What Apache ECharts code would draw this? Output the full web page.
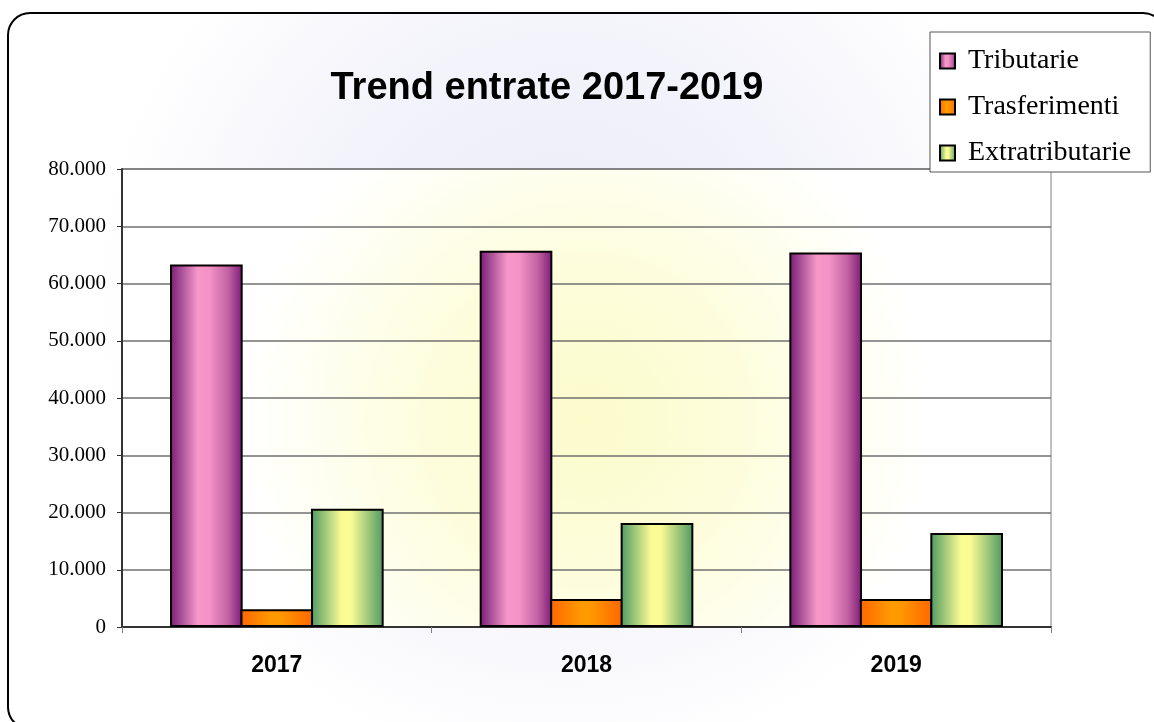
<!DOCTYPE html>
<html>
<head>
<meta charset="utf-8">
<title>Trend entrate 2017-2019</title>
<script src="https://cdn.jsdelivr.net/npm/echarts@6/dist/echarts.min.js"></script>
<style>
  html, body { margin: 0; padding: 0; background: #fff; }
  #main { width: 1154px; height: 722px; }
</style>
</head>
<body>
<div id="main"></div>
<script>
var categories = ['2017', '2018', '2019'];
var tributarie = [63300, 65700, 65400];
var trasferimenti = [3100, 4900, 4900];
var extratributarie = [20650, 18150, 16400];

function hGrad(edge, mid) {
  return new echarts.graphic.LinearGradient(0, 0, 1, 0, [
    { offset: 0, color: edge },
    { offset: 0.42, color: mid },
    { offset: 0.55, color: mid },
    { offset: 1, color: edge }
  ]);
}

window.onload = function () {
  var myChart = echarts.init(document.getElementById('main'));

  var option = {
    animation: false,
    graphic: [{
      type: 'rect',
      z: -10,
      silent: true,
      shape: { x: 8, y: 13, width: 1157, height: 716, r: 22 },
      style: {
        fill: new echarts.graphic.RadialGradient(0.48, 0.4, 0.65, [
          { offset: 0, color: '#eaeaf8' },
          { offset: 0.6, color: '#f4f4fb' },
          { offset: 1, color: '#ffffff' }
        ]),
        stroke: '#000',
        lineWidth: 2
      }
    }],
    title: {
      text: 'Trend entrate 2017-2019',
      left: 542,
      textAlign: 'center',
      top: 65,
      textStyle: {
        fontFamily: 'Liberation Sans, Arial, sans-serif',
        fontWeight: 'bold',
        fontSize: 38,
        color: '#000'
      }
    },
    legend: {
      orient: 'vertical',
      left: 930,
      top: 32,
      padding: [15, 19, 5, 9],
      itemGap: 18,
      itemWidth: 15,
      itemHeight: 15,
      icon: 'rect',
      backgroundColor: '#fff',
      borderColor: '#555',
      borderWidth: 1,
      textStyle: {
        fontFamily: 'Liberation Serif, Times New Roman, serif',
        fontSize: 28,
        color: '#000',
        padding: [0, 0, 0, 8]
      },
      data: ['Tributarie', 'Trasferimenti', 'Extratributarie']
    },
    grid: {
      left: 122,
      right: 103,
      top: 169,
      bottom: 95,
      show: true,
      borderColor: '#808080',
      borderWidth: 1,
      backgroundColor: new echarts.graphic.RadialGradient(0.5, 0.55, 0.75, [
        { offset: 0, color: '#fbfbcc' },
        { offset: 0.45, color: '#fdfddc' },
        { offset: 1, color: '#ffffff' }
      ])
    },
    xAxis: {
      type: 'category',
      data: categories,
      axisLine: { lineStyle: { color: '#333', width: 2 } },
      axisTick: { show: true, length: 6, lineStyle: { color: '#808080' } },
      axisLabel: {
        margin: 27,
        fontFamily: 'Liberation Sans, Arial, sans-serif',
        fontWeight: 'bold',
        fontSize: 23,
        color: '#000'
      }
    },
    yAxis: {
      type: 'value',
      min: 0,
      max: 80000,
      interval: 10000,
      axisLine: { show: true, lineStyle: { color: '#333', width: 2 } },
      axisTick: { show: true, length: 5, lineStyle: { color: '#333' } },
      splitLine: { show: true, lineStyle: { color: '#707070', width: 1.5 } },
      axisLabel: {
        margin: 16,
        fontFamily: 'Liberation Serif, Times New Roman, serif',
        fontSize: 21,
        color: '#000',
        formatter: function (v) {
          return v.toString().replace(/\B(?=(\d{3})+(?!\d))/g, '.');
        }
      }
    },
    series: [{
      name: 'Tributarie',
      type: 'bar',
      barGap: '-3%',
      barCategoryGap: '31%',
      data: tributarie,
      itemStyle: {
        color: new echarts.graphic.LinearGradient(0, 0, 1, 0, [
          { offset: 0, color: '#7a1a74' },
          { offset: 0.18, color: '#b0589d' },
          { offset: 0.38, color: '#f797c9' },
          { offset: 0.55, color: '#f292c6' },
          { offset: 0.8, color: '#c262a2' },
          { offset: 1, color: '#7d1a78' }
        ]),
        borderColor: '#000',
        borderWidth: 2
      }
    }, {
      name: 'Trasferimenti',
      type: 'bar',
      data: trasferimenti,
      itemStyle: {
        color: hGrad('#ff6600', '#ff9900'),
        borderColor: '#000',
        borderWidth: 2
      }
    }, {
      name: 'Extratributarie',
      type: 'bar',
      data: extratributarie,
      itemStyle: {
        color: hGrad('#4e9a63', '#fbfb94'),
        borderColor: '#000',
        borderWidth: 2
      }
    }]
  };

  myChart.setOption(option);
};
</script>
</body>
</html>
